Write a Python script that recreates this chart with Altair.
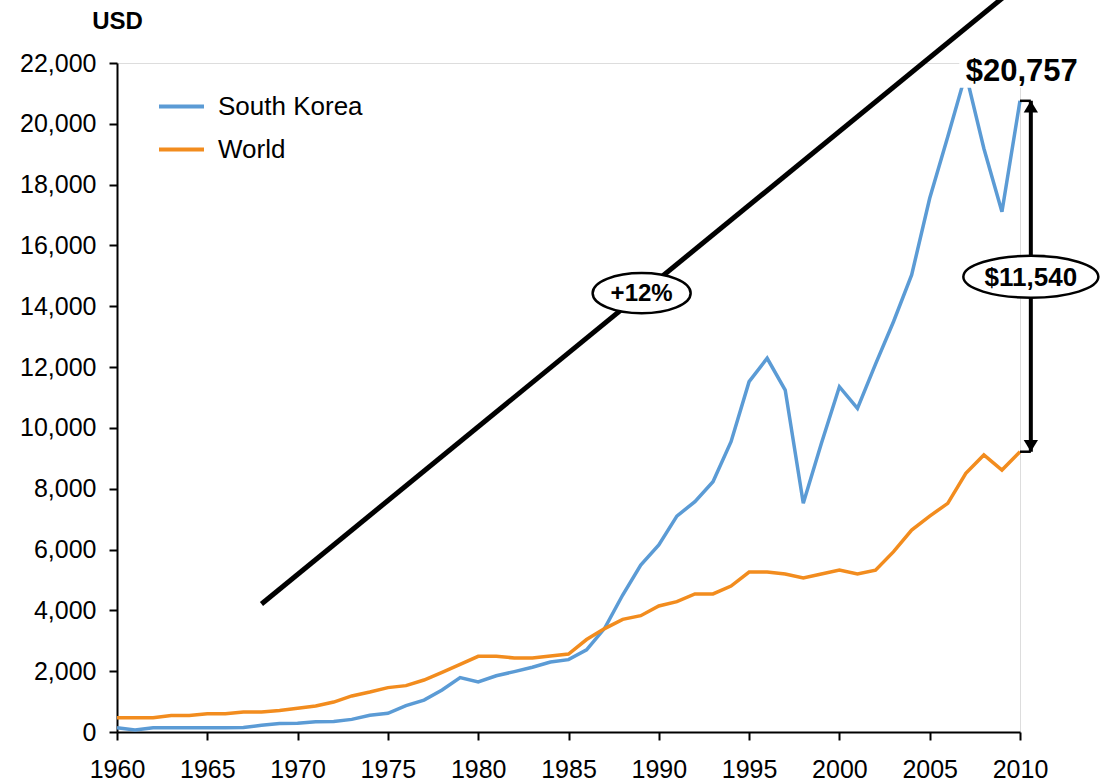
import altair as alt
import pandas as pd

# GDP per capita, current USD
years = list(range(1960, 2011))
south_korea = [
    140, 70, 140, 140, 140, 140, 140, 145, 220, 280,
    285, 340, 345, 415, 550, 615, 865, 1050, 1380, 1790,
    1645, 1850, 1985, 2130, 2300, 2380, 2700, 3410, 4505, 5490,
    6150, 7100, 7575, 8230, 9545, 11520, 12290, 11245, 7520, 9490,
    11355, 10645, 12100, 13500, 15030, 17550, 19575, 21650, 19190, 17110,
    20757,
]
world = [
    470, 470, 470, 540, 540, 600, 600, 660, 660, 710,
    780, 855, 985, 1185, 1315, 1460, 1525, 1710, 1960, 2225,
    2490, 2490, 2435, 2435, 2500, 2565, 3040, 3400, 3705, 3825,
    4145, 4285, 4540, 4540, 4800, 5260, 5260, 5195, 5065, 5195,
    5325, 5195, 5320, 5930, 6640, 7100, 7520, 8505, 9110, 8615,
    9217,
]
series_names = ["South Korea", "World"]
series_colors = ["#5B9BD5", "#F28C1E"]

# illustrative growth trend line and its label
trend_years = [1968, 2009.2]
trend_usd = [4210, 24220]
trend_text = ["+12%"]
trend_label_year = [1989.05]
trend_label_usd = [14432]

# gap between the two series in the final year
gap_year = [2010.6]
last_year = [years[-1]]
korea_last = [south_korea[-1]]
world_last = [world[-1]]
gap_value = [korea_last[0] - world_last[0]]
gap_label_usd = [14970]
top_label_year = [2010.1]
top_label_usd = [21740]

FONT = "Liberation Sans"

df = pd.DataFrame(
    {
        "year": years * 2,
        "usd": south_korea + world,
        "series": [series_names[0]] * len(years) + [series_names[1]] * len(years),
    }
)
trend_df = pd.DataFrame({"year": trend_years, "usd": trend_usd})
trend_lbl_df = pd.DataFrame({"year": trend_label_year, "usd": trend_label_usd, "text": trend_text})
gap_df = pd.DataFrame(
    {
        "year": gap_year,
        "year0": last_year,
        "lo": world_last,
        "hi": korea_last,
        "mid": gap_label_usd,
        "text": [f"${v:,}" for v in gap_value],
    }
)
top_df = pd.DataFrame(
    {"year": top_label_year, "usd": top_label_usd, "text": [f"${v:,}" for v in korea_last]}
)

xs = alt.Scale(domain=[1960, 2010], nice=False, zero=False)
ys = alt.Scale(domain=[0, 22000], nice=False)

x_axis = alt.Axis(
    values=list(range(1960, 2011, 5)),
    format="d",
    title="",
    grid=False,
    labelFontSize=25,
    labelFont=FONT,
    labelColor="black",
    labelPadding=17,
    tickSize=8,
    tickWidth=2,
    tickColor="black",
    domainColor="black",
    domainWidth=2,
    labelFlush=False,
    labelOverlap=False,
)
y_axis = alt.Axis(
    values=list(range(0, 22001, 2000)),
    format=",.0f",
    title="USD",
    titleAngle=0,
    titleX=0,
    titleY=-35,
    titleAlign="center",
    titleBaseline="alphabetic",
    titleFontSize=24,
    titleFontWeight="bold",
    titleFont=FONT,
    titleColor="black",
    grid=False,
    labelFontSize=25,
    labelFont=FONT,
    labelColor="black",
    labelPadding=13,
    tickSize=8,
    tickWidth=2,
    tickColor="black",
    domainColor="black",
    domainWidth=2,
    labelFlush=False,
    labelOverlap=False,
)


def X(field="year"):
    return alt.X(f"{field}:Q", scale=xs, axis=x_axis)


def Y(field="usd"):
    return alt.Y(f"{field}:Q", scale=ys, axis=y_axis)


trend = alt.Chart(trend_df).mark_line(color="black", strokeWidth=5, clip=False).encode(
    x=X(), y=Y()
)

lines = alt.Chart(df).mark_line(strokeWidth=3.5).encode(
    x=X(),
    y=Y(),
    color=alt.Color(
        "series:N",
        scale=alt.Scale(domain=series_names, range=series_colors),
        legend=alt.Legend(
            title=None,
            orient="none",
            legendX=40,
            legendY=19,
            symbolType="stroke",
            symbolSize=2025,
            symbolStrokeWidth=4,
            labelFontSize=26,
            labelFont=FONT,
            labelColor="black",
            labelOffset=12,
            rowPadding=5,
        ),
    ),
)

ellipse = "M-1,0A1,0.41,0,1,1,1,0A1,0.41,0,1,1,-1,0Z"
wide_ellipse = "M-1,0A1,0.31,0,1,1,1,0A1,0.31,0,1,1,-1,0Z"
box = "M-1,-0.27L1,-0.27L1,0.27L-1,0.27Z"
head_up = "M0,0L-0.55,0.9L0.55,0.9Z"
head_down = "M0,0L-0.55,-0.9L0.55,-0.9Z"

trend_oval = alt.Chart(trend_lbl_df).mark_point(
    shape=ellipse, size=9604, filled=True, fill="white", stroke="black", strokeWidth=2.5, opacity=1
).encode(x=X(), y=Y())
trend_txt = alt.Chart(trend_lbl_df).mark_text(
    font=FONT, fontSize=24, fontWeight="bold", color="black", baseline="middle", align="center", dy=1
).encode(x=X(), y=Y(), text="text:N")

gap_line = alt.Chart(gap_df).mark_rule(color="black", strokeWidth=4, clip=False).encode(
    x=X(), y=Y("lo"), y2="hi:Q"
)
cap_hi = alt.Chart(gap_df).mark_rule(color="black", strokeWidth=2.5, clip=False).encode(
    x=X("year0"), x2="year:Q", y=Y("hi")
)
cap_lo = alt.Chart(gap_df).mark_rule(color="black", strokeWidth=2.5, clip=False).encode(
    x=X("year0"), x2="year:Q", y=Y("lo")
)
arrow_hi = alt.Chart(gap_df).mark_point(
    shape=head_up, size=676, filled=True, color="black", opacity=1, clip=False
).encode(x=X(), y=Y("hi"))
arrow_lo = alt.Chart(gap_df).mark_point(
    shape=head_down, size=676, filled=True, color="black", opacity=1, clip=False
).encode(x=X(), y=Y("lo"))
gap_oval = alt.Chart(gap_df).mark_point(
    shape=wide_ellipse, size=18225, filled=True, fill="white", stroke="black", strokeWidth=2.5,
    opacity=1, clip=False,
).encode(x=X(), y=Y("mid"))
gap_txt = alt.Chart(gap_df).mark_text(
    font=FONT, fontSize=26, fontWeight="bold", color="black", baseline="middle", align="center", dy=1
).encode(x=X(), y=Y("mid"), text="text:N")

top_box = alt.Chart(top_df).mark_point(
    shape=box, size=15625, filled=True, color="white", opacity=1, clip=False
).encode(x=X(), y=Y())
top_txt = alt.Chart(top_df).mark_text(
    font=FONT, fontSize=31, fontWeight="bold", color="black", baseline="middle", align="center", dy=1
).encode(x=X(), y=Y(), text="text:N")

chart = (
    alt.layer(
        trend, lines, gap_line, cap_hi, cap_lo, arrow_hi, arrow_lo,
        gap_oval, gap_txt, top_box, top_txt, trend_oval, trend_txt,
    )
    .properties(
        width=903,
        height=669,
        autosize=alt.AutoSizeParams(type="none"),
        padding={"left": 117, "top": 63, "right": 81, "bottom": 49},
        background="white",
    )
    .configure_view(stroke=None)
    .configure(font=FONT)
)

chart.save("out.html", embed_options={"renderer": "svg", "actions": False})
